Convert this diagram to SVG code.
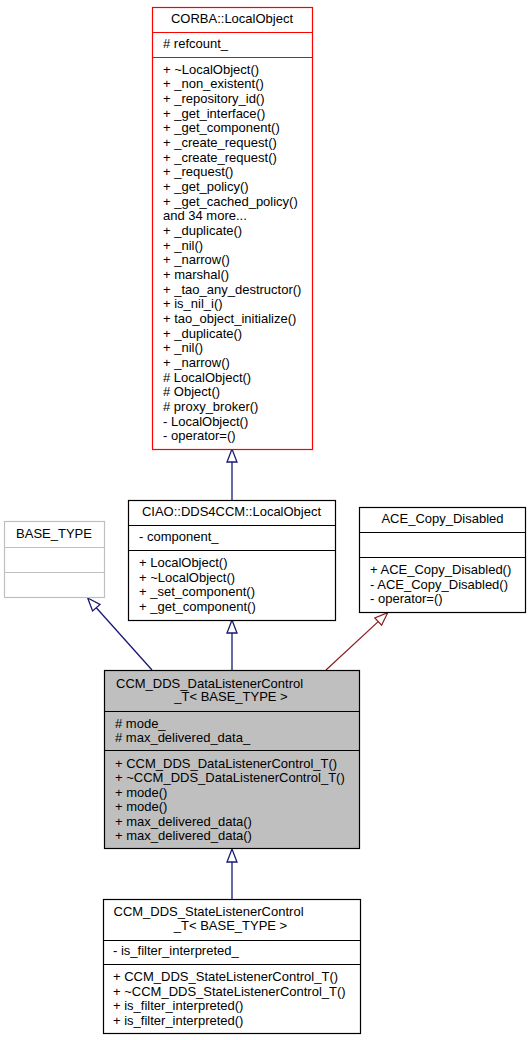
<svg xmlns="http://www.w3.org/2000/svg" width="531" height="1040" viewBox="0 0 531 1040">
<style>
text{font-family:"Liberation Sans",Arial,sans-serif;font-size:13px;fill:#000}
.c{text-anchor:middle}
.box{fill:#fff;stroke:#000;stroke-width:1.2}
.red{stroke:#ff0000}
.grey{stroke:#bfbfbf}
.sel{fill:#bfbfbf}
.sep{stroke:#000;stroke-width:1.2}
.sepr{stroke:#ff0000;stroke-width:1.2}
.sepg{stroke:#bfbfbf;stroke-width:1.2}
.pub{stroke:#191970;stroke-width:1.3;fill:none}
.pubh{stroke:#191970;stroke-width:1.3;fill:#fff}
.prv{stroke:#8b1a1a;stroke-width:1.2;fill:none}
.prvh{stroke:#8b1a1a;stroke-width:1.2;fill:#fff}
</style>
<rect width="531" height="1040" fill="#fff"/>
<g id="edges">
<line class="pub" x1="232" y1="500" x2="232" y2="462"/>
<polygon class="pubh" points="232,449 227,462 237,462"/>
<line class="pub" x1="232" y1="670" x2="232" y2="633"/>
<polygon class="pubh" points="232,620 227,633 237,633"/>
<line class="pub" x1="232" y1="899" x2="232" y2="862"/>
<polygon class="pubh" points="232,849 227,862 237,862"/>
<line class="pub" x1="152" y1="670" x2="96.3" y2="607.7"/>
<polygon class="pubh" points="87.7,598 100,604.4 92.6,611"/>
<line class="prv" x1="326" y1="670" x2="378.2" y2="621.6"/>
<polygon class="prvh" points="387.7,612.7 381.6,625.2 374.8,617.9"/>
</g>
<g id="node_corba">
<rect class="box red" x="152.5" y="7.5" width="160" height="442"/>
<line class="sepr" x1="152.5" y1="32.5" x2="312.5" y2="32.5"/>
<line class="sepr" x1="152.5" y1="57.5" x2="312.5" y2="57.5"/>
<text class="c" x="232" y="22.5">CORBA::LocalObject</text>
<text x="163" y="47.5"># refcount_</text>
<text x="163" y="73.5">+ ~LocalObject()</text>
<text x="163" y="88.2">+ _non_existent()</text>
<text x="163" y="102.8">+ _repository_id()</text>
<text x="163" y="117.5">+ _get_interface()</text>
<text x="163" y="132.2">+ _get_component()</text>
<text x="163" y="146.9">+ _create_request()</text>
<text x="163" y="161.5">+ _create_request()</text>
<text x="163" y="176.2">+ _request()</text>
<text x="163" y="190.9">+ _get_policy()</text>
<text x="163" y="205.5">+ _get_cached_policy()</text>
<text x="163" y="220.2">and 34 more...</text>
<text x="163" y="234.9">+ _duplicate()</text>
<text x="163" y="249.5">+ _nil()</text>
<text x="163" y="264.2">+ _narrow()</text>
<text x="163" y="278.9">+ marshal()</text>
<text x="163" y="293.5">+ _tao_any_destructor()</text>
<text x="163" y="308.2">+ is_nil_i()</text>
<text x="163" y="322.9">+ tao_object_initialize()</text>
<text x="163" y="337.6">+ _duplicate()</text>
<text x="163" y="352.2">+ _nil()</text>
<text x="163" y="366.9">+ _narrow()</text>
<text x="163" y="381.6"># LocalObject()</text>
<text x="163" y="396.2"># Object()</text>
<text x="163" y="410.9"># proxy_broker()</text>
<text x="163" y="425.6">- LocalObject()</text>
<text x="163" y="440.2">- operator=()</text>
</g>
<g id="node_base_type">
<rect class="box grey" x="4.5" y="521.5" width="100" height="76"/>
<line class="sepg" x1="4.5" y1="547.5" x2="104.5" y2="547.5"/>
<line class="sepg" x1="4.5" y1="572.5" x2="104.5" y2="572.5"/>
<text class="c" x="54" y="538">BASE_TYPE</text>
</g>
<g id="node_ciao">
<rect class="box" x="128.5" y="500.5" width="207" height="120"/>
<line class="sep" x1="128.5" y1="525.5" x2="335.5" y2="525.5"/>
<line class="sep" x1="128.5" y1="550.5" x2="335.5" y2="550.5"/>
<text class="c" x="231.5" y="515.5">CIAO::DDS4CCM::LocalObject</text>
<text x="139" y="541">- component_</text>
<text x="139" y="567">+ LocalObject()</text>
<text x="139" y="581.5">+ ~LocalObject()</text>
<text x="139" y="596">+ _set_component()</text>
<text x="139" y="610.5">+ _get_component()</text>
</g>
<g id="node_ace">
<rect class="box" x="359.5" y="507.5" width="166" height="105"/>
<line class="sep" x1="359.5" y1="532.5" x2="525.5" y2="532.5"/>
<line class="sep" x1="359.5" y1="557.5" x2="525.5" y2="557.5"/>
<text class="c" x="442.5" y="523">ACE_Copy_Disabled</text>
<text x="370" y="573.5">+ ACE_Copy_Disabled()</text>
<text x="370" y="588.5">- ACE_Copy_Disabled()</text>
<text x="370" y="603">- operator=()</text>
</g>
<g id="node_data_listener">
<rect class="box sel" x="104.5" y="670.5" width="255" height="178"/>
<line class="sep" x1="104.5" y1="711.5" x2="359.5" y2="711.5"/>
<line class="sep" x1="104.5" y1="750.5" x2="359.5" y2="750.5"/>
<text x="116" y="688">CCM_DDS_DataListenerControl</text>
<text class="c" x="231" y="701">_T&lt; BASE_TYPE &gt;</text>
<text x="115" y="727.5"># mode_</text>
<text x="115" y="741.5"># max_delivered_data_</text>
<text x="115" y="767.5">+ CCM_DDS_DataListenerControl_T()</text>
<text x="115" y="782">+ ~CCM_DDS_DataListenerControl_T()</text>
<text x="115" y="796.5">+ mode()</text>
<text x="115" y="811">+ mode()</text>
<text x="115" y="825.5">+ max_delivered_data()</text>
<text x="115" y="840">+ max_delivered_data()</text>
</g>
<g id="node_state_listener">
<rect class="box" x="103.5" y="899.5" width="257" height="134"/>
<line class="sep" x1="103.5" y1="940.5" x2="360.5" y2="940.5"/>
<line class="sep" x1="103.5" y1="964.5" x2="360.5" y2="964.5"/>
<text x="113.5" y="916">CCM_DDS_StateListenerControl</text>
<text class="c" x="230.5" y="930">_T&lt; BASE_TYPE &gt;</text>
<text x="113" y="954.5">- is_filter_interpreted_</text>
<text x="113" y="981">+ CCM_DDS_StateListenerControl_T()</text>
<text x="113" y="995.5">+ ~CCM_DDS_StateListenerControl_T()</text>
<text x="113" y="1010">+ is_filter_interpreted()</text>
<text x="113" y="1024.5">+ is_filter_interpreted()</text>
</g>
</svg>
